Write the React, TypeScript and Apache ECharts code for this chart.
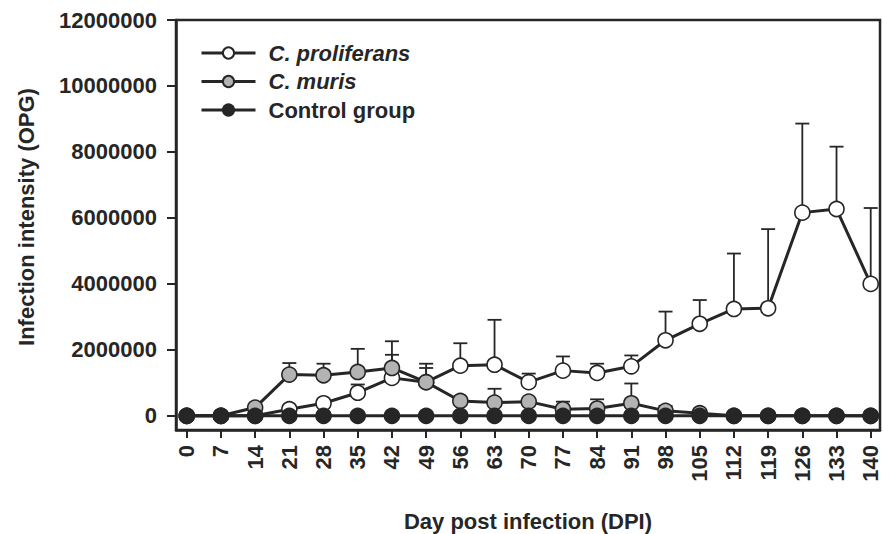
import React, { useEffect, useRef } from "react";
import * as echarts from "echarts";

const days = [0, 7, 14, 21, 28, 35, 42, 49, 56, 63, 70, 77, 84, 91, 98, 105, 112, 119, 126, 133, 140];

const proliferans = [0, 0, 0, 200000, 380000, 700000, 1150000, 1020000, 1520000, 1550000, 1020000, 1370000, 1300000, 1500000, 2290000, 2790000, 3240000, 3260000, 6160000, 6270000, 4000000];
const proliferansUpper: (number | null)[] = [null, null, null, null, null, 950000, 1850000, 1450000, 2200000, 2910000, 1280000, 1800000, 1580000, 1830000, 3160000, 3510000, 4920000, 5660000, 8860000, 8160000, 6300000];

const muris = [0, 0, 250000, 1250000, 1230000, 1330000, 1450000, 1020000, 450000, 400000, 430000, 200000, 220000, 380000, 150000, 80000, 0, 0, 0, 0, 0];
const murisUpper: (number | null)[] = [null, null, null, 1600000, 1580000, 2030000, 2260000, 1580000, null, 820000, null, 430000, 500000, 980000, 300000, null, null, null, null, null, null];

const control = [0, 0, 0, 0, 0, 0, 0, 0, 0, 0, 0, 0, 0, 0, 0, 0, 0, 0, 0, 0, 0];

const yTicks = [0, 2000000, 4000000, 6000000, 8000000, 10000000, 12000000];

const seriesNames = ["C. proliferans", "C. muris", "Control group"];

const DARK = "#262626";
const FONT = "Liberation Sans, Arial, sans-serif";

function errData(mean: number[], upper: (number | null)[]) {
  const out: number[][] = [];
  days.forEach((d, i) => {
    const u = upper[i];
    if (u !== null && u !== undefined) out.push([d, mean[i], u]);
  });
  return out;
}

function errSeries(name: string, data: number[][], z: number) {
  return {
    type: "custom",
    name: name + " err",
    z,
    silent: true,
    data,
    renderItem: (params: any, api: any) => {
      const x = api.value(0);
      const y = api.value(1);
      const hi = api.value(2);
      const p0 = api.coord([x, y]);
      const p1 = api.coord([x, hi]);
      const half = 7;
      return {
        type: "group",
        children: [
          { type: "line", shape: { x1: p0[0], y1: p0[1], x2: p1[0], y2: p1[1] }, style: { stroke: DARK, lineWidth: 1.8 } },
          { type: "line", shape: { x1: p1[0] - half, y1: p1[1], x2: p1[0] + half, y2: p1[1] }, style: { stroke: DARK, lineWidth: 1.8 } },
        ],
      };
    },
  };
}

function lineSeries(name: string, values: number[], fill: string, z: number) {
  return {
    type: "line",
    name,
    z,
    data: days.map((d, i) => [d, values[i]]),
    symbol: "circle",
    symbolSize: 15,
    showSymbol: true,
    lineStyle: { color: DARK, width: 3 },
    itemStyle: { color: fill, borderColor: DARK, borderWidth: 1.6 },
  };
}

export default function App() {
  const ref = useRef<HTMLDivElement>(null);
  useEffect(() => {
    if (!ref.current) return;
    const chart = echarts.init(ref.current, undefined, { renderer: "svg" });
    chart.setOption({
      animation: false,
      backgroundColor: "#ffffff",
      grid: { left: 176, right: 3, top: 20, bottom: 104, show: true, borderColor: DARK, borderWidth: 2.5, backgroundColor: "transparent" },
      legend: {
        orient: "vertical",
        left: 195,
        top: 37,
        itemWidth: 54,
        itemHeight: 14,
        itemGap: 6.5,
        data: seriesNames,
        lineStyle: { width: 3, color: DARK },
        formatter: (n: string) => (n === "Control group" ? "{n|" + n + "}" : "{i|" + n + "}"),
        textStyle: {
          color: DARK,
          fontFamily: FONT,
          fontSize: 22,
          fontWeight: "bold",
          padding: [0, 0, 0, 8],
          rich: {
            i: { fontStyle: "italic", fontWeight: "bold", fontSize: 22, fontFamily: FONT, color: DARK, lineHeight: 22 },
            n: { fontWeight: "bold", fontSize: 22, fontFamily: FONT, color: DARK, lineHeight: 22 },
          },
        },
      },
      xAxis: {
        type: "value",
        min: -2.2,
        max: 141.9,
        splitLine: { show: false },
        axisLine: { show: true, onZero: false, lineStyle: { color: DARK, width: 2.5 } },
        axisTick: { show: true, length: 8, lineStyle: { color: DARK, width: 2 }, customValues: days },
        axisLabel: {
          customValues: days,
          rotate: 90,
          margin: 15,
          color: DARK,
          fontFamily: FONT,
          fontSize: 22,
          fontWeight: "bold",
          formatter: (v: number) => String(v),
        },
      },
      yAxis: {
        type: "value",
        min: -430000,
        max: 12000000,
        splitLine: { show: false },
        axisLine: { show: true, onZero: false, lineStyle: { color: DARK, width: 2.5 } },
        axisTick: { show: true, length: 9, lineStyle: { color: DARK, width: 2 }, customValues: yTicks },
        axisLabel: {
          customValues: yTicks,
          margin: 19,
          color: DARK,
          fontFamily: FONT,
          fontSize: 22,
          fontWeight: "bold",
          formatter: (v: number) => String(v),
        },
      },
      graphic: [
        {
          type: "text",
          x: 26,
          y: 217,
          rotation: Math.PI / 2,
          style: { text: "Infection intensity (OPG)", fill: DARK, font: "bold 22px " + FONT, textAlign: "center", textVerticalAlign: "middle" },
        },
        {
          type: "text",
          x: 528,
          y: 521,
          style: { text: "Day post infection (DPI)", fill: DARK, font: "bold 22px " + FONT, textAlign: "center", textVerticalAlign: "middle" },
        },
      ],
      series: [
        errSeries(seriesNames[0], errData(proliferans, proliferansUpper), 1),
        lineSeries(seriesNames[0], proliferans, "#ffffff", 2),
        errSeries(seriesNames[1], errData(muris, murisUpper), 3),
        lineSeries(seriesNames[1], muris, "#b3b3b3", 4),
        lineSeries(seriesNames[2], control, DARK, 5),
      ],
    });
    return () => chart.dispose();
  }, []);
  return <div ref={ref} style={{ width: 883, height: 534, position: "absolute", left: 0, top: 0 }} />;
}
